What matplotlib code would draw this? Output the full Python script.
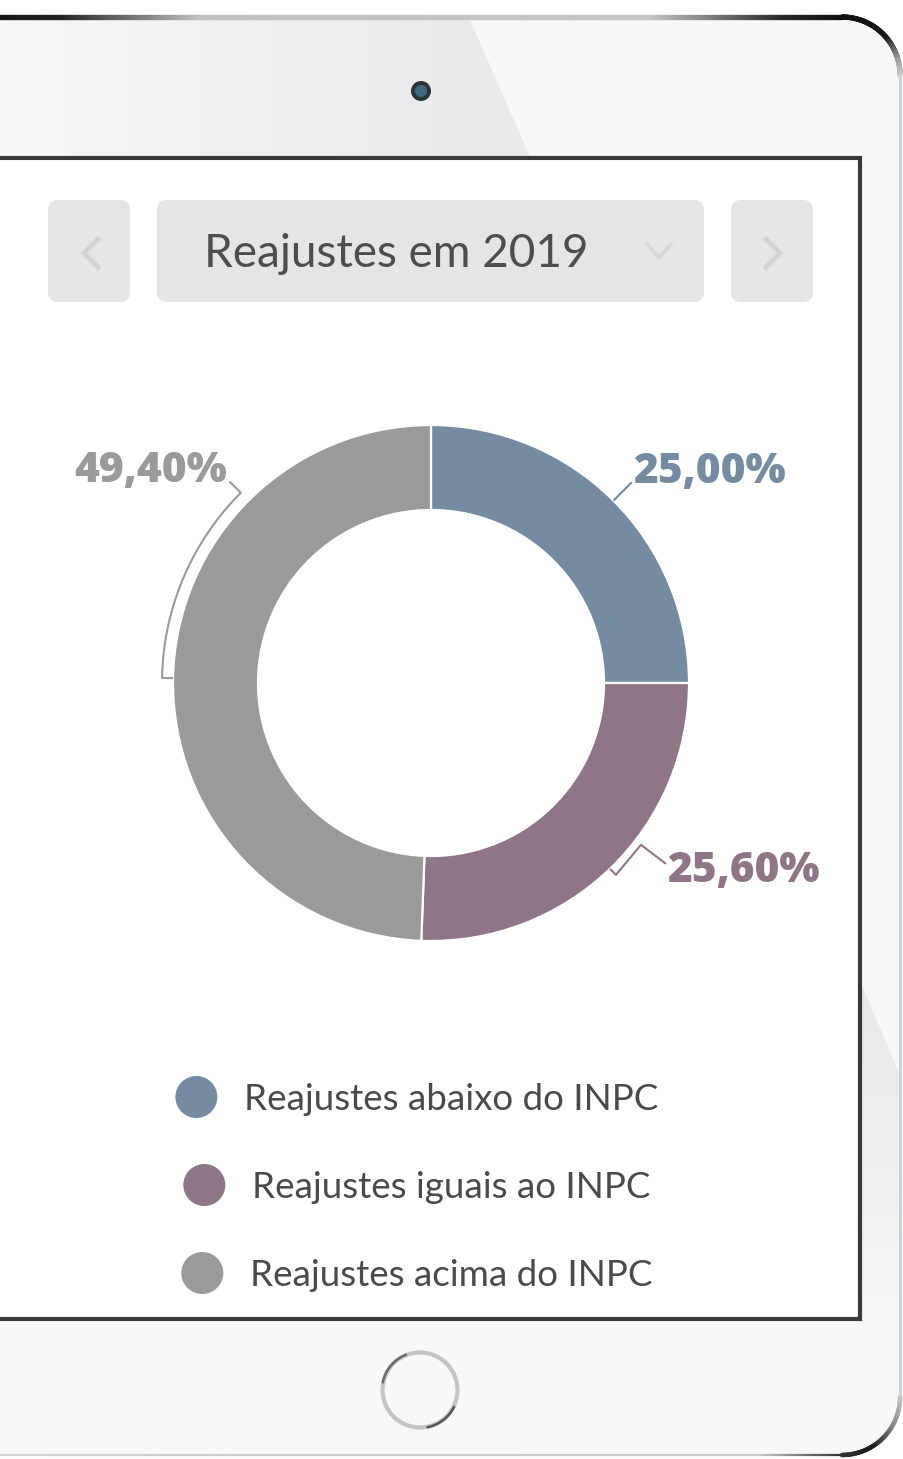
import matplotlib
matplotlib.use("Agg")
import matplotlib.pyplot as plt
import numpy as np
from matplotlib.patches import FancyBboxPatch, Circle, Rectangle, Polygon, Arc
from matplotlib.collections import LineCollection
from matplotlib.colors import to_rgb

W, H = 904, 1459

# data
titulo = "Reajustes em 2019"
categorias = ["Reajustes abaixo do INPC", "Reajustes iguais ao INPC", "Reajustes acima do INPC"]
valores = [25.00, 25.60, 49.40]
rotulos = ["25,00%", "25,60%", "49,40%"]
cores = ["#748ba2", "#8f7687", "#9a9a9a"]

TXT = "#4a4a4a"
FONT = ["Lato", "DejaVu Sans"]
FONT_B = ["Open Sans", "DejaVu Sans"]

fig = plt.figure(figsize=(W / 100, H / 100), dpi=100)
fig.patch.set_facecolor("white")
ax = fig.add_axes([0, 0, 1, 1])
ax.set_xlim(0, W)
ax.set_ylim(H, 0)
ax.axis("off")


def ramp(pos, stops):
    # colour ramp for the tablet edge / sheen
    ks = [s[0] for s in stops]
    rgb = np.array([to_rgb(s[1]) for s in stops])
    return np.stack([np.interp(pos, ks, rgb[:, i]) for i in range(3)], axis=1)


# ---- tablet body ----
R = 58
top, right, bottom = 17, 900, 1455
ax.add_patch(FancyBboxPatch((-120, top), right + 120, bottom - top,
                            boxstyle="round,pad=0,rounding_size=%d" % R,
                            fc="#f7f8f9", ec="none", zorder=1))

# sheen on the top bezel
gx = np.linspace(0, 540, 300)
img = ramp(gx, [(0, "#f7f8f9"), (200, "#f1f2f3"), (470, "#e9eaeb"), (540, "#e9eaeb")])
im = ax.imshow(img[None, :, :], extent=(0, 540, 157, 20), aspect="auto", zorder=1.5,
               interpolation="bilinear")
clip = Polygon([(0, 20), (470, 20), (530, 157), (0, 157)], closed=True,
               transform=ax.transData, fc="none", ec="none")
im.set_clip_path(clip)

# sheen on the right bezel
gy = np.linspace(983, 1340, 200)
img2 = ramp(gy, [(983, "#e8e9ea"), (1150, "#eeeff0"), (1340, "#f7f8f9")])
im2 = ax.imshow(img2[:, None, :], extent=(861, 899, 1340, 983), aspect="auto",
                zorder=1.5, interpolation="bilinear", origin="upper")
clip2 = Polygon([(861, 983), (899, 1073), (899, 1340), (861, 1340)], closed=True,
                transform=ax.transData, fc="none", ec="none")
im2.set_clip_path(clip2)
ax.set_xlim(0, W)
ax.set_ylim(H, 0)

segs, cols, lws = [], [], []


def add_path(pts, colors, lw):
    for i in range(len(pts) - 1):
        segs.append([pts[i], pts[i + 1]])
        cols.append(colors[i])
        lws.append(lw)


xs = np.linspace(-5, right - R, 300)
add_path(np.column_stack([xs, np.full_like(xs, top)]),
         ramp(xs, [(0, "#161616"), (60, "#222222"), (200, "#bfc1c3"), (650, "#c4c6c8"),
                   (780, "#2a2a2a"), (842, "#0f0f0f")]), 3.8)
t = np.radians(np.linspace(90, 0, 80))
add_path(np.column_stack([right - R + R * np.cos(t), top + R - R * np.sin(t)]),
         ramp(np.degrees(t), [(0, "#c8c8c8"), (15, "#9a9a9a"), (40, "#1a1a1a"), (90, "#0f0f0f")]), 3.8)
ys = np.linspace(top + R, bottom - R, 50)
add_path(np.column_stack([np.full_like(ys, right), ys]), ["#cfd1d3"] * 50, 2.2)
t = np.radians(np.linspace(0, 90, 80))
add_path(np.column_stack([right - R + R * np.cos(t), bottom - R + R * np.sin(t)]),
         ramp(np.degrees(t), [(0, "#c8c8c8"), (30, "#8a8a8a"), (60, "#1a1a1a"), (90, "#333333")]), 3.2)
xs = np.linspace(right - R, 0, 200)
add_path(np.column_stack([xs, np.full_like(xs, bottom)]),
         ramp(xs, [(0, "#d0d1d2"), (760, "#c8c9ca"), (842, "#333333")]), 1.6)
ax.add_collection(LineCollection(segs, colors=cols, linewidths=lws, capstyle="round", zorder=2))

# camera and home button
ax.add_patch(Circle((421, 91), 10, fc="#2c3337", ec="none", zorder=3))
ax.add_patch(Circle((421, 91), 6, fc="#3f6b80", ec="none", zorder=3))
ax.add_patch(Circle((420, 1390), 37.5, fc="none", ec="#c4c4c4", lw=3, zorder=3))
ax.add_patch(Arc((420, 1390), 76, 76, theta1=190, theta2=250, ec="#6a6a6a", lw=1.8, zorder=3))
ax.add_patch(Arc((420, 1390), 76, 76, theta1=25, theta2=80, ec="#555555", lw=1.8, zorder=3))

# ---- screen ----
ax.add_patch(Rectangle((-20, 158), 880, 1161, fc="white", ec="#393939", lw=3, zorder=4))

# header buttons
for x0, x1 in [(48, 130), (157, 704), (731, 813)]:
    ax.add_patch(FancyBboxPatch((x0, 200), x1 - x0, 102,
                                boxstyle="round,pad=0,rounding_size=10",
                                fc="#e5e5e5", ec="none", zorder=5))
ax.plot([98, 84, 98], [239, 253, 267], color="#d3d3d3", lw=3.5, zorder=6,
        solid_joinstyle="miter")
ax.plot([766, 780, 766], [239, 253, 267], color="#d3d3d3", lw=3.5, zorder=6,
        solid_joinstyle="miter")
ax.plot([647, 659, 671], [244, 258, 244], color="#d6d6d6", lw=2.5, zorder=6)
ax.text(396, 267, titulo, ha="center", va="baseline", fontsize=33,
        family=FONT, color="#4d4d4d", zorder=6)

# ---- donut ----
cx, cy = 431, 683
S = 400
axp = fig.add_axes([(cx - S) / W, (H - cy - S) / H, 2 * S / W, 2 * S / H])
axp.pie(valores, colors=cores, startangle=90, counterclock=False, radius=258,
        wedgeprops=dict(width=85, edgecolor="white", linewidth=1.6))
axp.set_xlim(-S, S)
axp.set_ylim(-S, S)
axp.axis("off")

mids = []
start = 90.0
for v in valores:
    span = v / 100 * 360
    mids.append((start - span / 2) % 360)
    start -= span


def pol(r, a):
    a = np.radians(a)
    return r * np.cos(a), r * np.sin(a)


lk = dict(lw=1.5, clip_on=False, solid_capstyle="butt")
tk = dict(fontsize=30.5, fontweight=800, family=FONT_B, va="baseline")

# abaixo
x0, y0 = pol(258, mids[0])
x1, y1 = pol(284, mids[0])
axp.plot([x0, x1], [y0, y1], color=cores[0], **lk)
axp.text(x1 + 1, y1 - 1, rotulos[0], ha="left", color=cores[0], **tk)

# iguais
x0, y0 = pol(258, mids[1])
off = np.array([[0, 0], [6, -6], [31, 24], [56, 5]])
axp.plot(x0 + off[:, 0], y0 + off[:, 1], color=cores[1], **lk)
axp.text(x0 + 57, y0 + 5 - 18, rotulos[1], ha="left", color=cores[1], **tk)

# acima
a = np.linspace(mids[2], 135, 60)
px, py = pol(269, a)
x0, y0 = pol(258, mids[2])
x2, y2 = pol(285, 135)
axp.plot(np.r_[x0, px, x2], np.r_[y0, py, y2], color=cores[2], **lk)
axp.text(x2 - 2, y2 - 1, rotulos[2], ha="right", color=cores[2], **tk)

# ---- legend ----
rend = fig.canvas.get_renderer()
for i, (cat, c) in enumerate(zip(categorias, cores)):
    yc = 1097 + i * 88
    t = ax.text(0, yc + 13.5, cat, ha="left", va="baseline", fontsize=26.5,
                family=FONT, color=TXT, zorder=6)
    tw = t.get_window_extent(rend).width
    left = 417 - (42 + 27 + tw) / 2
    t.set_x(left + 42 + 27)
    ax.add_patch(Circle((left + 21, yc), 21, fc=c, ec="none", zorder=6))

plt.savefig("out.png", dpi=100, facecolor="white")
